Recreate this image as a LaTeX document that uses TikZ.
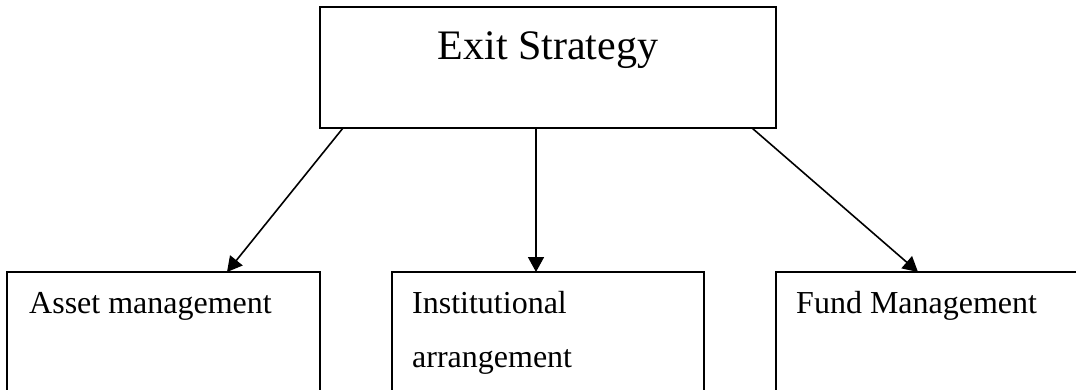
\documentclass[tikz,border=0pt]{standalone}
\usepackage{fontspec}
\setmainfont{Liberation Serif}
\usetikzlibrary{arrows.meta,calc}
\tikzset{
  box/.style={draw=black, line width=2.2pt, minimum width=#1, minimum height=121pt, inner sep=0pt, outer sep=0pt, anchor=north west},
  conn/.style={draw=black, line width=1.6pt, -{Triangle[length=15pt,width=16pt]}},
  bigtxt/.style={font=\fontsize{42}{50}\selectfont, inner sep=0pt, anchor=base},
  smalltxt/.style={font=\fontsize{32}{54}\selectfont, inner sep=0pt, anchor=base west, align=left},
}
\begin{document}
\begin{tikzpicture}[x=1pt,y=-1pt]
\useasboundingbox (0,0) rectangle (1076,389);
\clip (0,0) rectangle (1076,389);
\node[box=456pt] (top) at (320,7) {};
\node[box=313pt, minimum height=140pt] (b1) at (7,272) {};
\node[box=312pt, minimum height=140pt] (b2) at (392,272) {};
\node[box=320pt, minimum height=140pt] (b3) at (776,272) {};
\node[bigtxt] (t0) at (548,59) {Exit Strategy};
\node[smalltxt] (t1) at (29,313) {Asset management};
\node[smalltxt] (t2) at (412,313) {Institutional};
\node[smalltxt] (t2b) at (412,367) {arrangement};
\node[smalltxt] (t3) at (796,313) {Fund Management};
\draw[conn] ($(top.south west)+(23,0)$) -- ($(b1.north west)+(220,0)$);
\draw[conn] ($(top.south west)+(216,0)$) -- ($(b2.north west)+(144,0)$);
\draw[conn] ($(top.south west)+(432,0)$) -- ($(b3.north west)+(142,0)$);
\end{tikzpicture}
\end{document}
